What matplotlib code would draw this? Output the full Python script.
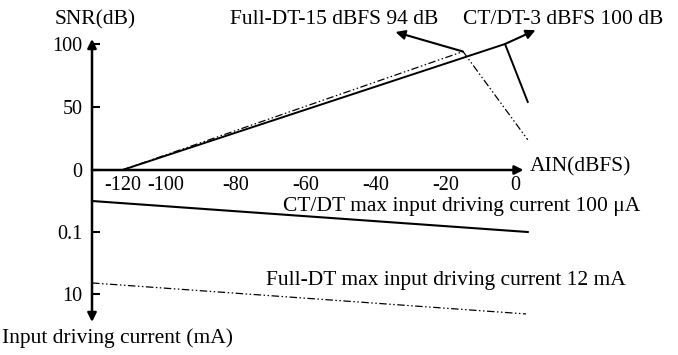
import matplotlib
matplotlib.use("Agg")
import matplotlib.pyplot as plt
import numpy as np

plt.rcParams["font.family"] = ["Liberation Serif", "DejaVu Serif"]

# AIN (dBFS) vs SNR (dB)
ct_snr_x = [-120, -3, 3.5]
ct_snr_y = [0, 100, 54]
full_snr_x = [-120, -15, 3.5]
full_snr_y = [0, 94, 24]

# AIN (dBFS) vs input driving current (mA)
ct_cur_x = [-134, 3.5]
ct_cur_y = [0.01, 0.1]
full_cur_x = [-134, 3]
full_cur_y = [4.4, 44]

ain_ticks = [-120, -100, -80, -60, -40, -20, 0]
snr_ticks = [0, 50, 100]
cur_ticks = [0.1, 10]
cur_tick_labels = ["0.1", "10"]

W, H = 678, 355
dashdotdot = (0, (6, 2, 1.2, 2, 1.2, 2))


def fwd(x):
    x = np.asarray(x, dtype=float)
    return np.where(x < -100, -100 + (x + 100) * 0.62, x)


def inv(y):
    y = np.asarray(y, dtype=float)
    return np.where(y < -100, -100 + (y + 100) / 0.62, y)


def arrow(ax, start, end, coords="data", lw=1.8, scale=13):
    ax.annotate("", xy=end, xytext=start, xycoords=coords, textcoords=coords,
                annotation_clip=False,
                arrowprops=dict(arrowstyle="-|>", color="k", lw=lw,
                                mutation_scale=scale, shrinkA=0, shrinkB=0))


fig = plt.figure(figsize=(W / 100, H / 100), dpi=100)
top = fig.add_axes([92 / W, 1 - 170 / H, 448 / W, 163.8 / H], facecolor="none")
bot = fig.add_axes([92 / W, 1 - 322 / H, 448 / W, 152 / H], facecolor="none")

for ax in (top, bot):
    ax.set_xscale("function", functions=(fwd, inv))
    ax.set_xlim(-134, 7)
    for s in ax.spines.values():
        s.set_visible(False)

top.set_ylim(0, 130)
bot.set_yscale("log")
bot.set_ylim(80, 0.001)

# SNR curves
top.plot(ct_snr_x, ct_snr_y, color="k", lw=1.4, clip_on=False)
top.plot(full_snr_x, full_snr_y, color="k", lw=0.9, ls=dashdotdot, clip_on=False)

# driving current curves
bot.plot(ct_cur_x, ct_cur_y, color="k", lw=1.5, clip_on=False)
bot.plot(full_cur_x, full_cur_y, color="k", lw=0.9, ls=dashdotdot, clip_on=False)

# axes drawn as arrows
arrow(top, (-134, 0), (-134, 104))
arrow(top, (-134, 0), (2.3, 0))
arrow(bot, (0, 1), (0, 0), coords="axes fraction")

# pointer arrows to the peaks
arrow(top, (full_snr_x[1], full_snr_y[1]), (-34.3, 109.5), lw=1.5, scale=14)
arrow(top, (ct_snr_x[1], ct_snr_y[1]), (5.7, 111), lw=1.5, scale=14)

top.set_xticks(ain_ticks)
top.set_xticklabels([str(t) for t in ain_ticks])
top.tick_params(axis="x", length=0, pad=4, labelsize=14.5)
top.set_yticks(snr_ticks)
top.tick_params(axis="y", direction="in", length=6, width=1.5, pad=7, labelsize=14.5)

bot.set_xticks([])
bot.set_yticks(cur_ticks)
bot.set_yticklabels(cur_tick_labels)
bot.yaxis.set_minor_locator(matplotlib.ticker.NullLocator())
bot.tick_params(axis="y", direction="in", length=6, width=1.5, pad=7, labelsize=14.5)

fs = 15.5
fig.text(55 / W, 1 - 20 / H, "SNR(dB)", fontsize=fs, va="center", ha="left")
fig.text(230 / W, 1 - 19 / H, "Full-DT-15 dBFS 94 dB", fontsize=fs, va="center", ha="left")
fig.text(463 / W, 1 - 19 / H, "CT/DT-3 dBFS 100 dB", fontsize=fs, va="center", ha="left")
fig.text(530 / W, 1 - 167 / H, "AIN(dBFS)", fontsize=fs, va="center", ha="left")
fig.text(640 / W, 1 - 206 / H, "CT/DT max input driving current 100 \u03bcA",
         fontsize=fs, va="center", ha="right")
fig.text(626 / W, 1 - 280 / H, "Full-DT max input driving current 12 mA",
         fontsize=fs, va="center", ha="right")
fig.text(2 / W, 1 - 338 / H, "Input driving current (mA)", fontsize=fs,
         va="center", ha="left")

fig.savefig("out.png", dpi=100)
